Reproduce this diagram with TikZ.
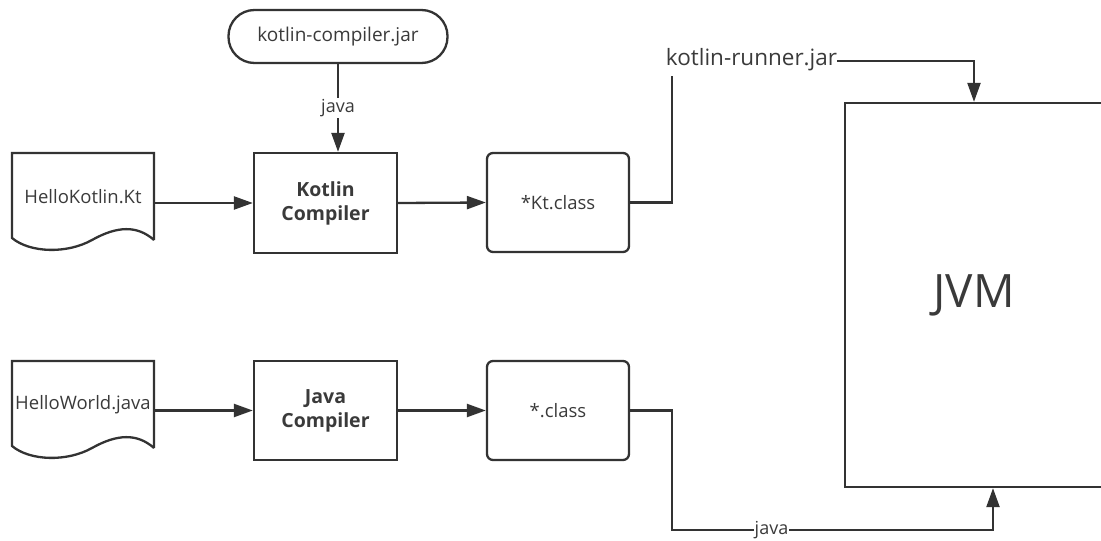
\documentclass[tikz,border=0pt]{standalone}
\usepackage{fontspec}
\setmainfont{Open Sans}
\usetikzlibrary{arrows.meta,calc}
\definecolor{ink}{HTML}{333333}
\definecolor{txt}{HTML}{3A3A3A}
\tikzset{
  line/.style={draw=ink, line width=2.3pt},
  arr/.style={line, -{Triangle[length=19pt,width=13pt]}},
  box/.style={line, minimum width=143pt, minimum height=100pt, inner sep=0pt, font=\fontsize{19.5}{24}\selectfont\bfseries, text=txt, align=center},
  rbox/.style={box, rounded corners=6pt, font=\fontsize{18.5}{22}\selectfont},
  lbl/.style={fill=white, inner sep=1pt, text=txt, font=\fontsize{18}{20}\selectfont},
}
\newcommand\docshape[4]{%
  \node[minimum width=142pt, minimum height=87pt, inner sep=0pt, anchor=north west] (#1) at (#2,#3) {};
  \draw[line] (#2+142,#3+87) -- (#2+142,#3) -- (#2,#3) -- (#2,#3+85)
    .. controls (#2+18,#3+100) and (#2+55,#3+101) .. (#2+80,#3+87)
    .. controls (#2+105,#3+73) and (#2+125,#3+72) .. (#2+142,#3+87);
  \node[text=txt, font=\fontsize{18.5}{22}\selectfont] at (#2+71,#3+44) {#4};
}
\begin{document}
\begin{tikzpicture}[x=1pt,y=-1pt]
\useasboundingbox (0,0) rectangle (1101,541);
\clip (0,0) rectangle (1101,541);
% nodes
\node[line, rounded corners=26pt, minimum width=219pt, minimum height=53pt, inner sep=0pt, text=txt, font=\fontsize{19}{22}\selectfont] (jar) at (338,36.5) {kotlin-compiler.jar};
\docshape{hk}{12}{153}{HelloKotlin.Kt}
\docshape{hw}{12}{361}{HelloWorld.java}
\node[box] (kc) at (325.5,203) {Kotlin\\Compiler};
\node[box, minimum height=99pt] (jc) at (325.5,410.5) {Java\\Compiler};
\node[rbox, minimum width=142pt, minimum height=99pt] (kt) at (558,202.5) {*Kt.class};
\node[rbox, minimum width=142pt, minimum height=99pt] (cl) at (558,410.5) {*.class};
\node[line, minimum width=258pt, minimum height=384pt, inner sep=0pt, text=txt, font=\fontsize{46}{50}\selectfont] (jvm) at (974,295) {JVM};
\node[inner sep=0pt, text=txt, font=\fontsize{22.5}{26}\selectfont] (runner) at (751.5,60) {kotlin-runner.jar};
% connectors
\draw[arr] (jar.south) -- node[lbl, pos=0.5] {java} (jar.south |- kc.north);
\draw[arr] (hk.east |- kc.west) -- (kc.west);
\draw[arr] (kc.east) -- (kt.west);
\draw[arr] (hw.east |- jc.west) -- (jc.west);
\draw[arr] (jc.east) -- (cl.west);
\coordinate (k1) at (672,76);
\draw[line] (kt.east) -| (k1);
\coordinate (r1) at (974,61);
\draw[arr] (runner.east |- r1) -- (r1) -- (r1 |- jvm.north);
\coordinate (b1) at (672,530);
\coordinate (b2) at (993,530);
\draw[arr] (cl.east) -| (b1) -- node[lbl, pos=0.31] {java} (b2) -- (b2 |- jvm.south);
\end{tikzpicture}
\end{document}
